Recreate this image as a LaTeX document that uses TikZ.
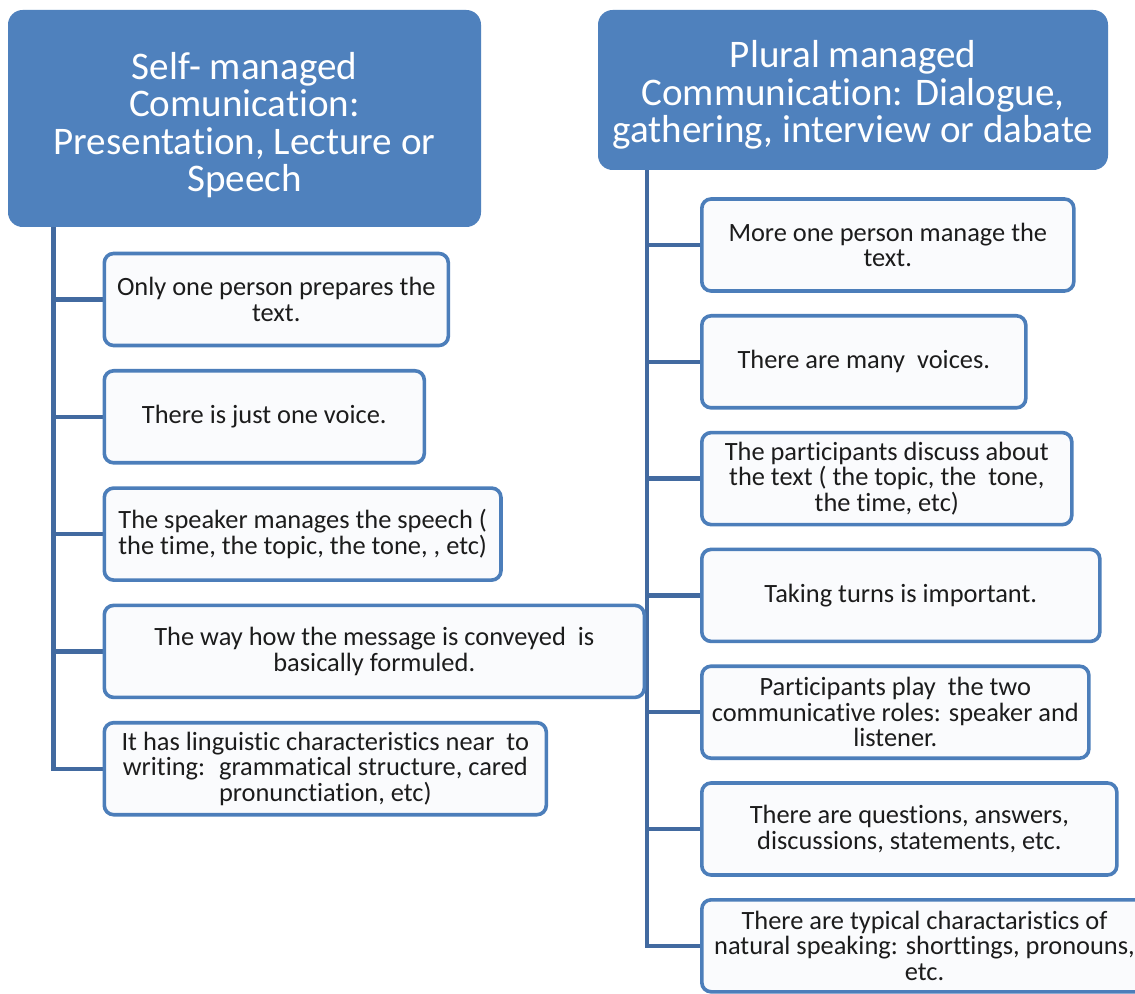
\documentclass[tikz,border=0pt]{standalone}
\usepackage{fontspec}
\setmainfont{Carlito}[RawFeature={-liga;-clig;-calt;-dlig}]
\usetikzlibrary{backgrounds}
\definecolor{hdblue}{RGB}{79,129,189}
\definecolor{bdblue}{RGB}{76,126,186}
\definecolor{lnblue}{RGB}{66,106,160}
\definecolor{boxfill}{RGB}{250,251,253}
\definecolor{txt}{RGB}{28,28,28}
\newcommand\headfont{\fontsize{29.3}{28}\selectfont}
\newcommand\itemfont{\fontsize{19.8}{19.2}\selectfont}
\begin{document}
\begin{tikzpicture}[x=0.75pt,y=-0.75pt,
  head/.style={fill=hdblue, rounded corners=11pt, text=white, font=\headfont,
    align=center, inner sep=0pt},
  item/.style={draw=bdblue, line width=2.7pt, fill=boxfill, rounded corners=7pt,
    text=txt, font=\itemfont, align=center, inner sep=0pt, anchor=west,
    minimum height=69pt},
  link/.style={draw=lnblue, line width=3.2pt, line join=miter}]
\useasboundingbox (0,0) rectangle (1135,994);
\clip (0,0) rectangle (1135,994);

% column headers (the strut on the first line lowers the text block a little)
\node[head, minimum width=354.75pt, minimum height=162.75pt] (lh) at (244.5,118.5)
  {\rule{0pt}{30pt}Self- managed\\Comunication:\\Presentation, Lecture or\\Speech};
\node[head, minimum width=382.5pt, minimum height=120pt] (rh) at (853,90)
  {\rule{0pt}{28pt}Plural managed\\Communication: Dialogue,\\gathering, interview or dabate};

% self-managed items
\node[item, minimum width=258pt]   (l1) at (102.5,299.5) {Only one person prepares the\\text.};
\node[item, minimum width=240pt]   (l2) at (102.5,416.8) {There is just one voice.};
\node[item, minimum width=297.5pt] (l3) at (102.5,534.1) {The speaker manages the speech (\\the time, the topic, the tone, , etc)};
\node[item, minimum width=405pt]   (l4) at (102.5,651.4) {The way how the message is conveyed~ is\\basically formuled.};
\node[item, minimum width=331.5pt] (l5) at (102.5,768.7) {It has linguistic characteristics near~ to\\writing:~ grammatical structure, cared\\pronunctiation, etc)};

% plural-managed items
\node[item, minimum width=279pt]   (r1) at (700,245)   {More one person manage the\\text.};
\node[item, minimum width=243pt]   (r2) at (700,361.8) {There are many~ voices.};
\node[item, minimum width=277.5pt] (r3) at (700,478.6) {The participants discuss about\\the text ( the topic, the~ tone,\\the time, etc)};
\node[item, minimum width=298.5pt] (r4) at (700,595.4) {Taking turns is important.};
\node[item, minimum width=290.3pt] (r5) at (700,712.2) {Participants play~ the two\\communicative roles: speaker and\\listener.};
\node[item, minimum width=311.3pt] (r6) at (700,829)   {There are questions, answers,\\discussions, statements, etc.};
\node[item, minimum width=334pt]   (r7) at (700,945.8) {There are typical charactaristics of\\natural speaking: shorttings, pronouns,\\etc.};

% connectors: trunk from each header, one branch per item
\coordinate (lend) at (53.5,768.7);
\coordinate (rend) at (647,945.8);
\begin{scope}[on background layer]
  \fill[white] (0,0) rectangle (1135,994);
  \draw[link] (lh.south -| lend) -- (lend) -- (l5.west);
  \foreach \b in {l1,l2,l3,l4} \draw[link] (\b.west -| lend) -- (\b.west);
  \draw[link] (rh.south -| rend) -- (rend) -- (r7.west);
  \foreach \b in {r1,r2,r3,r4,r5,r6} \draw[link] (\b.west -| rend) -- (\b.west);
\end{scope}
\end{tikzpicture}
\end{document}
